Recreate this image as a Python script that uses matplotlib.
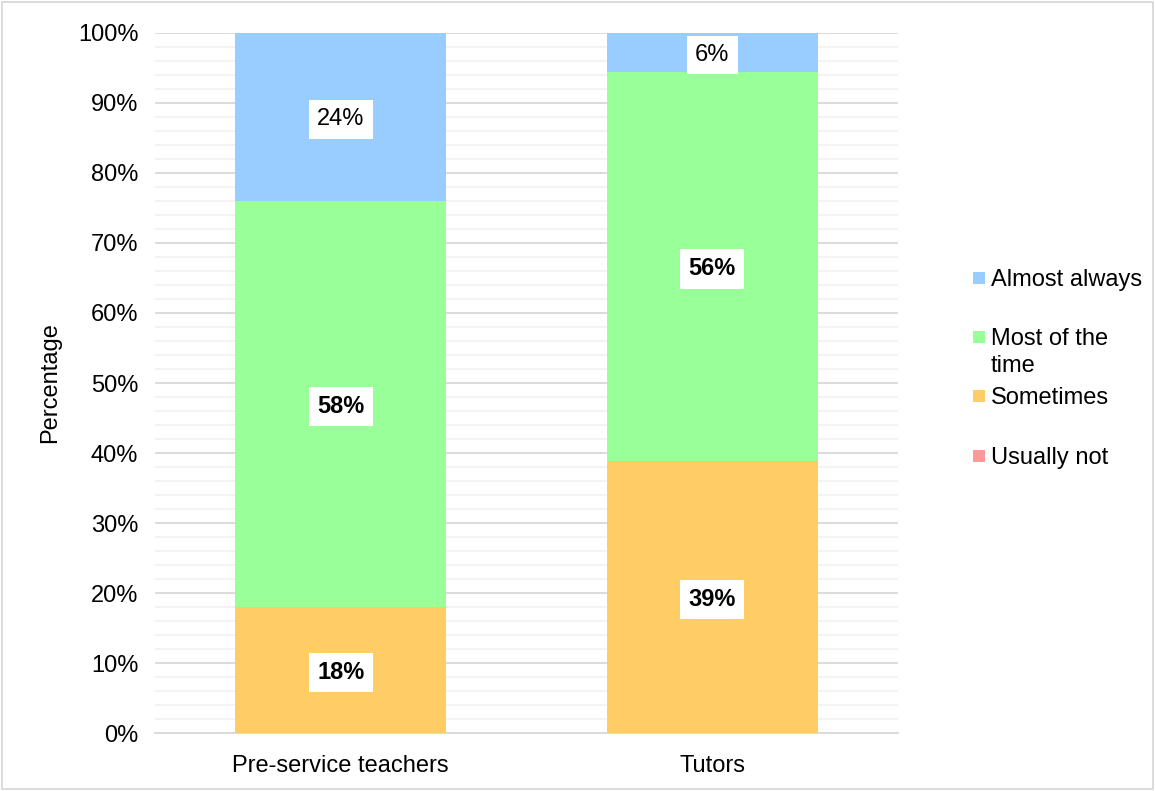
import numpy as np
import matplotlib.pyplot as plt
from matplotlib.patches import Rectangle
from matplotlib.ticker import MultipleLocator, PercentFormatter

plt.rcParams['font.family'] = ['Liberation Sans', 'DejaVu Sans']

groups = ['Pre-service teachers', 'Tutors']
series = ['Usually not', 'Sometimes', 'Most of the time', 'Almost always']
legend_labels = ['Usually not', 'Sometimes', 'Most of the\ntime', 'Almost always']
usually_not = [0, 0]
sometimes = [18, 38.9]
most_time = [58, 55.5]
almost_always = [24, 5.6]
colors = ['#FF9999', '#FFCC66', '#99FF99', '#99CCFF']
bold_label = [False, True, True, False]

values = [usually_not, sometimes, most_time, almost_always]

fig = plt.figure(figsize=(11.55, 7.91), dpi=100)
ax = fig.add_axes([0.1342, 0.0733, 0.6433, 0.885])

x = np.arange(len(groups))
bottom = np.zeros(len(groups))
for vals, col, bold in zip(values, colors, bold_label):
    vals = np.array(vals, dtype=float)
    ax.bar(x, vals, 0.567, bottom=bottom, color=col, zorder=3)
    for xi, b, v in zip(x, bottom, vals):
        if v > 0:
            ax.text(xi, b + v / 2, '{:.0f}%'.format(v), ha='center', va='center_baseline',
                    fontsize=17, fontweight='bold' if bold else 'normal', zorder=4,
                    bbox=dict(facecolor='white', edgecolor='none', pad=6))
    bottom += vals

ax.set_xlim(-0.5, 1.5)
ax.set_ylim(0, 100)
ax.yaxis.set_major_locator(MultipleLocator(10))
ax.yaxis.set_minor_locator(MultipleLocator(2))
ax.yaxis.set_major_formatter(PercentFormatter(decimals=0))
ax.grid(axis='y', which='major', color='#D9D9D9', linewidth=1.3, zorder=1)
ax.grid(axis='y', which='minor', color='#F2F2F2', linewidth=1.3, zorder=0)
ax.set_xticks(x)
ax.set_xticklabels(groups)
ax.tick_params(axis='both', which='both', length=0, labelsize=17, colors='#000000')
ax.tick_params(axis='y', pad=12)
ax.tick_params(axis='x', pad=16)
for s in ['top', 'right', 'left']:
    ax.spines[s].set_visible(False)
ax.spines['bottom'].set_color('#D9D9D9')
ax.spines['bottom'].set_linewidth(1.3)
ax.set_ylabel('Percentage', fontsize=17, labelpad=12)

# legend drawn by hand so the patch aligns with the first line of wrapped text
leg_y = [456, 396, 337, 278]
for lab, col, yy in zip(legend_labels, colors, leg_y):
    fy = 1 - yy / 791
    fig.add_artist(Rectangle((973 / 1155, fy - 6 / 791), 12 / 1155, 12 / 791,
                             transform=fig.transFigure, facecolor=col, edgecolor='none'))
    fig.text(991 / 1155, fy + 9 / 791, lab, fontsize=17, va='top', ha='left',
             linespacing=1.3)

fig.add_artist(Rectangle((0.002, 0.002), 0.996, 0.996, transform=fig.transFigure,
                         facecolor='none', edgecolor='#D9D9D9', linewidth=1.3))

fig.savefig('out.png', dpi=100)
